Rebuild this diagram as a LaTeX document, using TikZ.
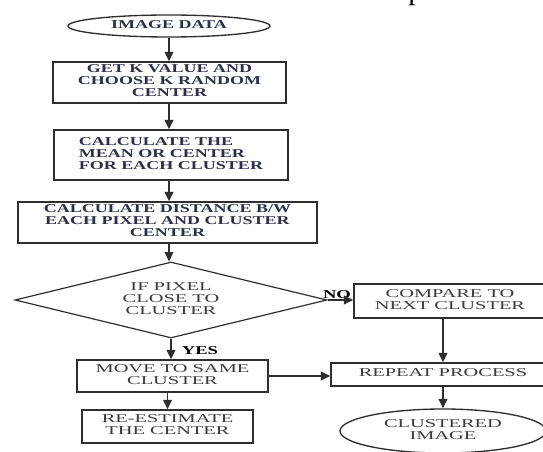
\documentclass[tikz,border=0pt]{standalone}
\usepackage{graphicx}
\usepackage{fontspec}
\setmainfont{Liberation Serif}
\usetikzlibrary{shapes.geometric,arrows.meta}
\definecolor{linec}{HTML}{2E2E2E}
\definecolor{txtb}{HTML}{2B3048}
\definecolor{txtr}{HTML}{3A3A3A}
\newcommand{\btxt}[1]{\scalebox{1.5}[1]{\bfseries\begin{tabular}{@{}c@{}}#1\end{tabular}}}
\newcommand{\bltxt}[1]{\scalebox{1.5}[1]{\bfseries\begin{tabular}{@{}l@{}}#1\end{tabular}}}
\newcommand{\rtxt}[1]{\scalebox{1.7}[1]{\begin{tabular}{@{}c@{}}#1\end{tabular}}}
\newcommand{\lbtxt}[1]{\scalebox{1.55}[1]{\bfseries #1}}
\begin{document}
\begin{tikzpicture}[x=0.75pt,y=-0.75pt,
  every node/.style={font=\fontsize{9}{9}\selectfont},
  stepbox/.style={draw=linec, line width=1.2pt, rectangle, inner sep=0pt, text=txtb},
  regbox/.style={stepbox, text=txtr},
  termin/.style={draw=linec, line width=1pt, ellipse, inner sep=0pt},
  decide/.style={draw=linec, line width=0.9pt, diamond, aspect=4.1, inner sep=0pt, text=txtr},
  flow/.style={-{Triangle[length=7pt,width=6.5pt]}, line width=1.2pt, draw=linec},
  lab/.style={inner sep=0pt, text=black}]
\useasboundingbox[fill=white] (0,0) rectangle (543,452);

\node[inner sep=0pt, anchor=base west, font=\fontsize{22}{22}\selectfont] (pchar) at (408,0) {p};

\node[termin, text=txtb, minimum width=151.5pt, minimum height=16.5pt] (start) at (169,26) {\btxt{IMAGE DATA}};
\node[stepbox, minimum width=174.75pt, minimum height=30.75pt] (b1) at (169.5,82.5)
  {\btxt{GET K VALUE AND\\CHOOSE K RANDOM\\CENTER}};
\node[stepbox, minimum width=175.5pt, minimum height=37.5pt] (b2) at (171,155)
  {\bltxt{CALCULATE THE\\MEAN OR CENTER\\FOR EACH CLUSTER}};
\node[stepbox, minimum width=224.25pt, minimum height=30.75pt] (b3) at (167.5,222.5)
  {\btxt{CALCULATE DISTANCE B/W\\EACH PIXEL AND CLUSTER\\CENTER}};
\node[decide, minimum width=234pt, minimum height=57pt] (dia) at (171,300)
  {\rtxt{IF PIXEL\\CLOSE TO\\CLUSTER}};
\node[regbox, minimum width=144pt, minimum height=25.5pt] (cmp) at (450,301)
  {\rtxt{COMPARE TO\\NEXT CLUSTER}};
\node[regbox, minimum width=168pt, minimum height=17.25pt] (rep) at (443,374.5)
  {\rtxt{REPEAT PROCESS}};
\node[regbox, minimum width=143.25pt, minimum height=24pt] (move) at (172.5,376)
  {\rtxt{MOVE TO SAME\\CLUSTER}};
\node[regbox, minimum width=128.25pt, minimum height=24.75pt] (est) at (167.5,426.5)
  {\rtxt{RE-ESTIMATE\\THE CENTER}};
\node[termin, text=txtr, minimum width=154.5pt, minimum height=33pt] (fin) at (443,431)
  {\rtxt{CLUSTERED\\IMAGE}};

\node[lab] (nolab) at (337,295) {\lbtxt{NO}};
\node[lab] (yeslab) at (200,351) {\lbtxt{YES}};

\draw[flow] (start.south) -- (start.south |- b1.north);
\draw[flow] (start.south |- b1.south) -- (start.south |- b2.north);
\draw[flow] (start.south |- b2.south) -- (start.south |- b3.north);
\draw[flow] (start.south |- b3.south) -- (start.south |- dia.north);
\draw[flow] (dia.east) -- (dia.east -| cmp.west);
\draw[flow] (cmp.south -| rep.north) -- (rep.north);
\draw[flow] (dia.south) -- (dia.south |- move.north);
\draw[flow] (move.east) -- (move.east -| rep.west);
\draw[flow] (est.north |- move.south) -- (est.north);
\draw[flow] (rep.south) -- (fin.north);
\end{tikzpicture}
\end{document}
